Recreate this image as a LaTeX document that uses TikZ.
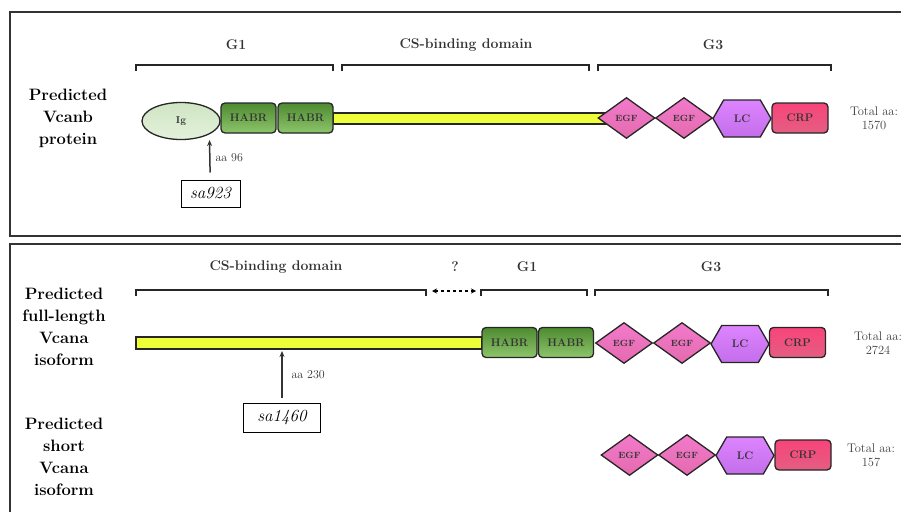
\documentclass[tikz,border=0pt]{standalone}
\usepackage{tikz}
\usetikzlibrary{shapes.geometric}
\usetikzlibrary{shapes.symbols}
\usetikzlibrary{arrows.meta}

\definecolor{framegray}{HTML}{333333}
\definecolor{edgegray}{HTML}{262626}
\definecolor{iglight}{HTML}{E4F1DC}
\definecolor{igdark}{HTML}{CFE5C3}
\definecolor{habrdark}{HTML}{4E8A30}
\definecolor{habrlight}{HTML}{8DC56B}
\definecolor{csyellow}{HTML}{EEFF3A}
\definecolor{egfpink}{HTML}{F27ACB}
\definecolor{egfpinkb}{HTML}{E46AAE}
\definecolor{lcviolet}{HTML}{DD84FF}
\definecolor{lcvioletb}{HTML}{C46EEB}
\definecolor{crpred}{HTML}{F8447A}
\definecolor{crpredb}{HTML}{E35E82}

% bracket over a group of domains: x from, x to, y
\newcommand{\domainbracket}[3]{\draw[bracket] (#1,#3+6) -- (#1,#3) -- (#2,#3) -- (#2,#3+6);}

\begin{document}
\begin{tikzpicture}[
    x=1pt, y=-1pt,
    dombox/.style={draw=edgegray, line width=1.3pt, inner sep=0pt,
      font=\bfseries\fontsize{11}{12}\selectfont, text=black!80},
    ig/.style={dombox, ellipse, minimum width=78, minimum height=37,
      top color=igdark, bottom color=iglight, font=\bfseries\fontsize{10}{11}\selectfont},
    habr/.style={dombox, rectangle, rounded corners=4pt, minimum width=55,
      minimum height=30, top color=habrdark, bottom color=habrlight},
    egf/.style={dombox, diamond, minimum width=57, minimum height=41,
      top color=egfpink, bottom color=egfpinkb, font=\bfseries\fontsize{9}{10}\selectfont},
    lc/.style={dombox, signal, signal to=east and west, signal pointer angle=120,
      minimum width=58, minimum height=37, top color=lcviolet, bottom color=lcvioletb},
    crp/.style={dombox, rectangle, rounded corners=4pt, minimum width=56,
      minimum height=30, top color=crpred, bottom color=crpredb},
    csbar/.style={draw=edgegray, line width=1.3pt, fill=csyellow, inner sep=0pt,
      minimum height=11},
    bracket/.style={line width=2pt, draw=black!85},
    grouplabel/.style={font=\bfseries\fontsize{14}{16}\selectfont, text=black!80},
    rowlabel/.style={font=\bfseries\fontsize{16.5}{22}\selectfont, align=center},
    totallabel/.style={font=\fontsize{12.5}{14}\selectfont, align=center, text=black!75},
    allele/.style={draw, line width=1pt, inner sep=0pt, minimum width=59,
      minimum height=27, font=\itshape\fontsize{17}{19}\selectfont},
    poslabel/.style={font=\fontsize{12}{13}\selectfont, text=black!80, anchor=west},
    mutarrow/.style={-{Stealth[length=6pt,width=5pt]}, line width=1.5pt, draw=black!80},
    panel/.style={draw=framegray, line width=1.5pt}
  ]

  \clip (0,0) rectangle (901,511);

  % ---- Vcanb ----
  \draw[panel] (10,12) rectangle (912,236);

  \node[rowlabel] (vcanb) at (68,118) {Predicted\\Vcanb\\protein};

  \node[grouplabel] (g1top) at (236,45) {G1};
  \node[grouplabel] (cstop) at (466,45) {CS-binding domain};
  \node[grouplabel] (g3top) at (713,45) {G3};
  \domainbracket{136}{333}{65}
  \domainbracket{342}{589}{65}
  \domainbracket{598}{831}{65}

  \node[csbar, minimum width=279] (csb) at (472.5,118.5) {};
  \node[ig] (igb) at (181,121) {Ig};
  \node[habr] (habrba) at (248.5,118) {HABR};
  \node[habr] (habrbb) at (305.5,118) {HABR};
  \node[egf] (egfba) at (626.5,118) {EGF};
  \node[egf] (egfbb) at (684,118) {EGF};
  \node[lc] (lcb) at (742,118.5) {LC};
  \node[crp] (crpb) at (800,118) {CRP};
  \node[totallabel] (totb) at (874,118) {Total aa:\\1570};

  \coordinate (mutb) at (209.5,140);
  \node[allele] (sa923) at (210.5,193.5) {sa923};
  \draw[mutarrow, shorten <=7pt] (sa923) -- (mutb);
  \node[poslabel] (posb) at (212,158) {aa 96};

  % ---- Vcana ----
  \draw[panel] (10,244) rectangle (912,530);

  \node[rowlabel] (vcanafull) at (64,326.5) {Predicted\\full-length\\Vcana\\isoform};
  \node[rowlabel] (vcanashort) at (64,457) {Predicted\\short\\Vcana\\isoform};

  \node[grouplabel] (csbot) at (276,267) {CS-binding domain};
  \node[grouplabel] (gap) at (455,267) {?};
  \node[grouplabel] (g1bot) at (527,267) {G1};
  \node[grouplabel] (g3bot) at (711,267) {G3};
  \domainbracket{136}{426}{290}
  \domainbracket{481}{587}{290}
  \domainbracket{595}{828}{290}
  \coordinate (gapl) at (432,291);
  \coordinate (gapr) at (476,291);
  \draw[{Stealth[length=5pt,width=5pt]}-{Stealth[length=5pt,width=5pt]},
    dashed, line width=1.5pt] (gapl) -- (gapr);

  \node[csbar, minimum width=346, minimum height=12] (csa) at (309,343) {};
  \node[habr] (habraa) at (509.5,342.5) {HABR};
  \node[habr] (habrab) at (566,342.5) {HABR};
  \node[egf] (egfaa) at (624,343) {EGF};
  \node[egf] (egfab) at (682,343) {EGF};
  \node[lc] (lca) at (740,344) {LC};
  \node[crp] (crpa) at (797.5,342.5) {CRP};
  \node[totallabel] (tota) at (878,343) {Total aa:\\2724};

  \coordinate (muta) at (282,351);
  \node[allele, minimum width=77, minimum height=29] (sa1460) at (282,417.5) {sa1460};
  \draw[mutarrow, shorten <=5pt] (sa1460) -- (muta);
  \node[poslabel] (posa) at (288,375) {aa 230};

  \node[egf] (egfsa) at (629.5,455) {EGF};
  \node[egf] (egfsb) at (687,455) {EGF};
  \node[lc] (lcs) at (745,455.5) {LC};
  \node[crp] (crps) at (803,455) {CRP};
  \node[totallabel] (tots) at (871,455) {Total aa:\\157};

\end{tikzpicture}
\end{document}
